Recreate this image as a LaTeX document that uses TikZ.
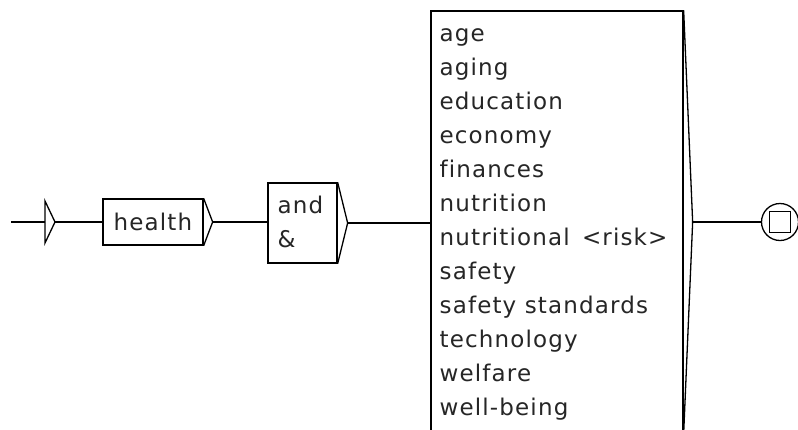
\documentclass[tikz,border=0pt]{standalone}
\usepackage{fontspec}
\setmainfont[LetterSpace=5, Ligatures={NoCommon}]{DejaVu Sans}
\begin{document}
\begin{tikzpicture}[x=1pt, y=-1pt, line width=1.3pt,
    every node/.style={font=\fontsize{23}{34}\selectfont, text=black!85},
    boxnode/.style={draw, rectangle, inner sep=0pt, fill=white},
    wordnode/.style={anchor=base west, inner sep=0pt},
    link/.style={draw, line width=1.2pt}]
  \useasboundingbox (0,0) rectangle (798,429);
  \clip (0,0) rectangle (798,429);

  % initial state
  \coordinate (entry) at (11,222);
  \coordinate (initback) at (45,222);
  \coordinate (inittip) at (55,222);
  \draw (initback) -- (entry);
  \draw (45,201) -- (inittip) -- (45,243) -- cycle;

  % box "health"
  \node[boxnode, minimum width=100pt, minimum height=46pt] (health) at (153,222) {};
  \node[wordnode] (healthtxt) at (113,230) {health};
  \coordinate (healthtip) at ([xshift=9pt]health.east);
  \draw (health.north east) -- (healthtip) -- (health.south east);

  % box "and / &"
  \node[boxnode, minimum width=69pt, minimum height=80pt] (andbox) at (302.5,223) {};
  \node[wordnode] (andtxt) at (277,213) {and};
  \node[wordnode] (amptxt) at (277,247) {\&};
  \coordinate (andtip) at ([xshift=10pt]andbox.east);
  \draw (andbox.north east) -- (andtip) -- (andbox.south east);

  % large list box
  \node[boxnode, minimum width=252pt, minimum height=422pt] (list) at (557,222) {};
  \foreach \w [count=\i from 0] in {age, aging, education, economy, finances,
      nutrition, {nutritional \,<risk>}, safety, safety standards,
      technology, welfare, well-being}
    \node[wordnode] (item\i) at (439,{41+34*\i}) {\w};
  \coordinate (listtip) at ([xshift=9pt]list.east);
  \draw (list.north east) -- (listtip) -- (list.south east);

  % final state
  \node[draw, circle, minimum size=37pt, inner sep=0pt] (final) at (780,222) {};
  \node[draw, rectangle, minimum size=21pt, inner sep=0pt] (finalsq) at (final.center) {};

  % transitions
  \path[link] (inittip) -- (health.west);
  \path[link] (healthtip) -- (andbox.west |- healthtip);
  \path[link] (andtip) -- (list.west |- andtip);
  \path[link] (listtip) -- (final.west);
\end{tikzpicture}
\end{document}
